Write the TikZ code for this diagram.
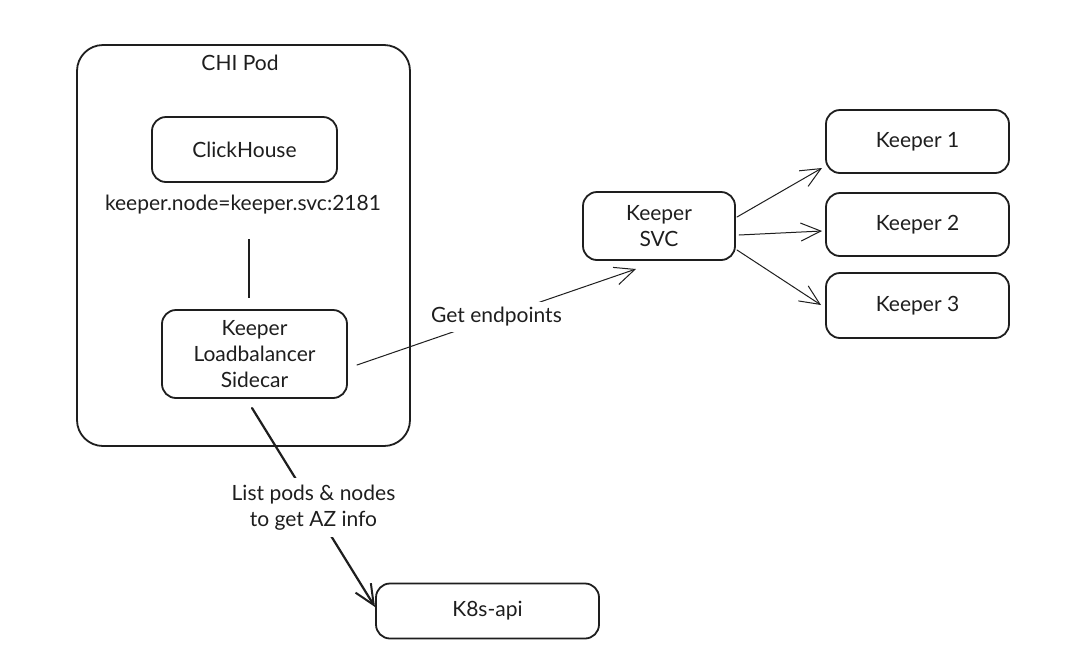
\documentclass[tikz,border=0pt]{standalone}
\usepackage{fontspec}
\setmainfont{Lato}
\usetikzlibrary{arrows.meta}
\definecolor{ink}{HTML}{1E1E1E}
\begin{document}
\begin{tikzpicture}[x=1pt,y=-1pt,
  txt/.style={font=\fontsize{21}{26}\selectfont, text=ink, align=center},
  box/.style={txt, draw=ink, line width=1.8pt, rounded corners=14pt, inner sep=0pt},
  thinarrow/.style={draw=ink, line width=1pt, line cap=round,
    -{Straight Barb[length=20pt,width=18pt,line width=1pt]}},
  thickarrow/.style={draw=ink, line width=2.2pt, line cap=round,
    -{Straight Barb[length=20pt,width=18pt,line width=2pt]}},
  gaplabel/.style={txt, fill=white, inner sep=5pt}
]
\useasboundingbox[fill=white] (0,0) rectangle (1073,670);

% CHI pod container
\node[box, rounded corners=26pt, minimum width=333pt, minimum height=401pt] (pod) at (243.5,245.5) {};
\node[txt] (podlabel) at (240,63) {CHI Pod};

% inner nodes
\node[box, minimum width=185pt, minimum height=65pt] (ch) at (244.5,149.5) {ClickHouse};
\node[txt] (kvnode) at (243,205) {keeper.node=keeper.svc:2181};
\node[box, minimum width=185pt, minimum height=88pt] (sidecar) at (254.5,354) {Keeper\\Loadbalancer\\Sidecar};

% right side
\node[box, minimum width=152pt, minimum height=68pt] (svc) at (659,226) {Keeper\\SVC};
\node[box, minimum width=183pt, minimum height=63pt] (k1) at (917.5,141.5) {Keeper 1};
\node[box, minimum width=183pt, minimum height=63pt] (k2) at (917.5,224.5) {Keeper 2};
\node[box, minimum width=183pt, minimum height=65pt] (k3) at (917.5,305.5) {Keeper 3};

% bottom
\node[box, minimum width=223pt, minimum height=55pt] (k8s) at (487.5,611) {K8s-api};

% connector between label and sidecar
\coordinate (vtop) at (249,239);
\coordinate (vbot) at (249,298);
\draw[draw=ink, line width=1.4pt] (vtop) -- (vbot);

% get endpoints
\coordinate (gs) at (357,365);
\coordinate (ge) at (636,269);
\draw[thinarrow] (gs) -- node[gaplabel] (getlbl) {Get endpoints} (ge);

% svc to keepers
\coordinate (s1) at (737,217);
\coordinate (s2) at (739,235);
\coordinate (s3) at (737,250);
\coordinate (e1) at (822,168);
\coordinate (e2) at (822,231);
\coordinate (e3) at (821,305);
\draw[thinarrow] (s1) -- (e1);
\draw[thinarrow] (s2) -- (e2);
\draw[thinarrow] (s3) -- (e3);

% sidecar to k8s
\coordinate (ls) at (252,408);
\coordinate (le) at (375,607);
\draw[thickarrow] (ls) -- node[gaplabel, inner sep=7pt] (listlbl) {List pods \& nodes\\to get AZ info} (le);
\end{tikzpicture}
\end{document}
